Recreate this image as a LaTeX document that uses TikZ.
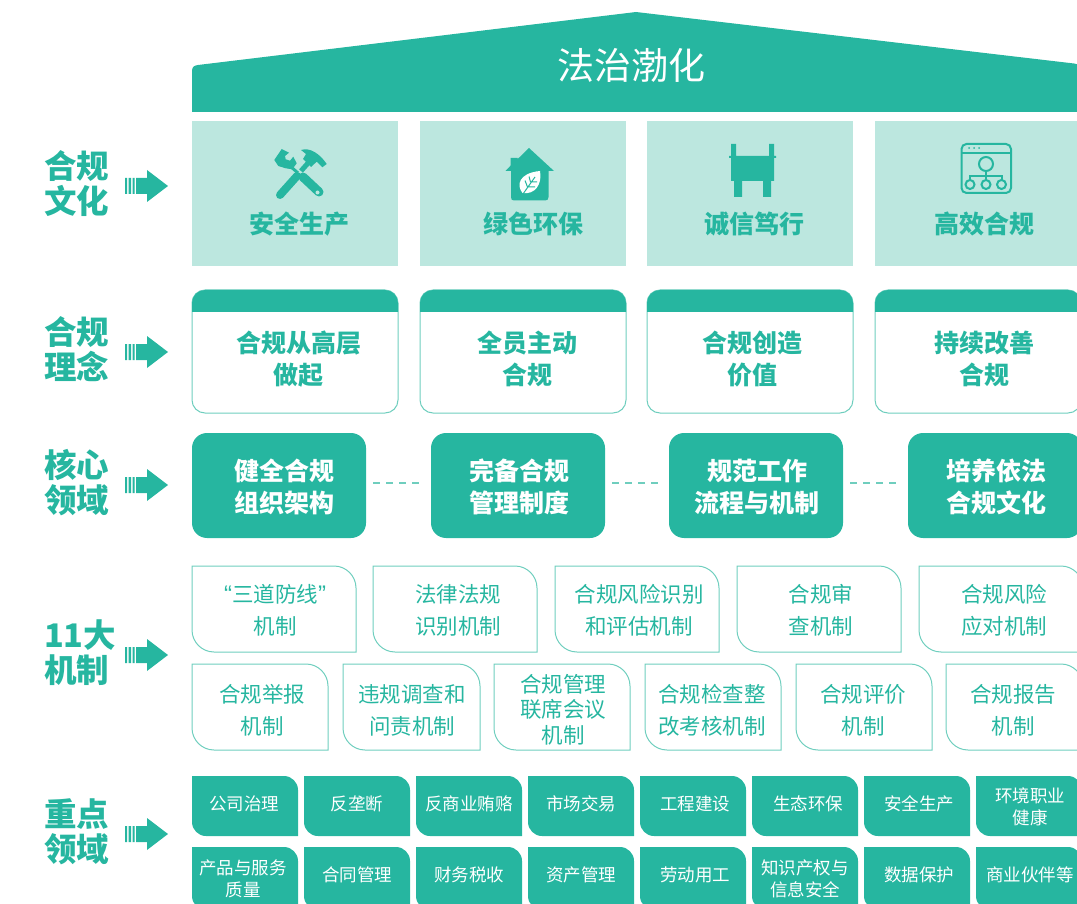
\documentclass[tikz,border=0pt]{standalone}
\usepackage{fontspec}
\setmainfont{Noto Sans CJK SC}
\newfontfamily\quotefont{Liberation Sans}
\definecolor{jade}{HTML}{26B6A0}
\definecolor{pale}{HTML}{BCE7DF}
\definecolor{edge}{HTML}{6FCEBE}
\newcommand{\leafpath}[5]{(#1,#2) -- ({#3-#5},#2) .. controls ({#3-.45*#5},#2) and (#3,{#2+.45*#5}) .. (#3,{#2+#5}) -- (#3,#4) -- ({#1+#5},#4) .. controls ({#1+.45*#5},#4) and (#1,{#4-.45*#5}) .. (#1,{#4-#5}) -- cycle}
\newcommand{\tabpath}[5]{(#1,#4) -- (#1,{#2+#5}) .. controls (#1,{#2+.45*#5}) and ({#1+.45*#5},#2) .. ({#1+#5},#2) -- ({#3-#5},#2) .. controls ({#3-.45*#5},#2) and (#3,{#2+.45*#5}) .. (#3,{#2+#5}) -- (#3,#4) -- cycle}
\tikzset{
  sidetext/.style={anchor=west,align=left,inner sep=0pt,text=jade,font=\bfseries\fontsize{32.5}{35}\selectfont},
  bigtext/.style={align=center,inner sep=0pt,text=jade,font=\bfseries\fontsize{25}{32}\selectfont},
  whitetext/.style={bigtext,text=white},
  mechtext/.style={align=center,inner sep=0pt,text=jade,font=\fontsize{21.5}{32}\selectfont},
  fieldtext/.style={align=center,inner sep=0pt,text=white,font=\fontsize{17.5}{22}\selectfont},
  culture/.style={fill=pale,draw=none,minimum width=206pt,minimum height=145pt,inner sep=0pt},
  idea/.style={draw=edge,line width=1pt,rounded corners=13pt,minimum width=206pt,minimum height=123pt,inner sep=0pt},
  core/.style={fill=jade,rounded corners=15pt,minimum width=174pt,minimum height=105pt,inner sep=0pt},
  coredash/.style={draw=edge,line width=1.5pt,dash pattern=on 7pt off 6pt,shorten >=7pt,shorten <=7pt},
  mechline/.style={draw=edge,line width=1pt},
  iconline/.style={draw=jade,line width=2pt,fill=none},
  pics/goarrow/.style={code={
    \fill[jade] (0,-8) rectangle (2.2,8) (3.7,-8) rectangle (6,8) (7.5,-8) rectangle (9.7,8);
    \fill[jade] (11,-8) -- (22,-8) -- (22,-16) -- (43,0) -- (22,16) -- (22,8) -- (11,8) -- cycle;
  }}
}
\begin{document}
\begin{tikzpicture}[x=1pt,y=-1pt]
\useasboundingbox (0,0) rectangle (1077,904);
\clip (0,0) rectangle (1077,904);
%roof
\fill[jade] (192,112) -- (192,71) .. controls (192,67) and (194,65.5) .. (198,65) -- (636,12) -- (1074,63.5) .. controls (1078,64) and (1082,66) .. (1082,70) -- (1082,112) -- cycle;
\node[font=\fontsize{37}{40}\selectfont,text=white,inner sep=0pt] (roof) at (631,65) {法治渤化};

%culture row
\node[sidetext] (sideA) at (44,183.5) {合规\\文化}; \pic (arrowA) at (125,186) {goarrow};
\node[culture] (cult1) at (295,193.5) {}; \node[bigtext] (cult1t) at (299,224) {安全生产};
\node[culture] (cult2) at (523,193.5) {}; \node[bigtext] (cult2t) at (533,224) {绿色环保};
\node[culture] (cult3) at (750,193.5) {}; \node[bigtext] (cult3t) at (754,224) {诚信笃行};
\node[culture] (cult4) at (978,193.5) {}; \node[bigtext] (cult4t) at (984,224) {高效合规};
%tools icon
\fill[jade] (274.3,160) -- (281.7,149) -- (289,152.7) -- (285,156) -- (285.7,159.3) -- (290,160.7) -- (293.3,156.7) -- (296.7,163.3) -- (292.3,169.3) -- (285.7,168.3) -- (278.3,166) -- cycle;
\draw[jade,line width=3pt] (290,166) -- (298,173);
\draw[jade,line width=9pt,line cap=round] (303,177) -- (319,192);
\fill[pale] (317.5,192.5) circle[radius=2];
\draw[jade,line width=8pt,line cap=round] (280,195) -- (297,176);
\draw[jade,line width=5pt] (301,171) -- (309,162);
\fill[jade] (301,150) .. controls (310,147) and (320,154) .. (326.7,164) -- (322.3,167.3) -- (316.7,161.7) -- (311,167) -- (303,159) -- (306,154) -- cycle;
%house icon
\fill[jade] (511,171) -- (505.5,171) -- (510.7,165.5) -- (510.7,158) -- (517.7,158) -- (517.7,159) -- (529,148) -- (554,171) -- (548.5,171) -- (548.5,197) .. controls (548.5,199.5) and (547.5,200.5) .. (545,200.5) -- (514,200.5) .. controls (512,200.5) and (511,199.5) .. (511,197) -- cycle;
\fill[white] (522.5,193) .. controls (516,185) and (519,173) .. (540,171) .. controls (542.5,184) and (535,195) .. (522.5,193) -- cycle;
\draw[jade,line width=1pt] (523,194) -- (535,177) (527.5,187) -- (525,180.5) (527.5,187) -- (535,187) (530.5,182) -- (529,176.5) (530.5,182) -- (537,182);
%pedestal icon
\fill[jade] (731,144) rectangle (736,157) (769,144) rectangle (774,157) (729,156) rectangle (776,158) (731,157) rectangle (774,181) (734,181) rectangle (742,197) (763,181) rectangle (771,197);
%network icon
\draw[iconline,rounded corners=5pt] (961.5,144) rectangle (1011,193);
\draw[iconline] (961.5,153) -- (1011,153);
\fill[jade] (969,148) circle[radius=1] (974,148) circle[radius=1] (979,148) circle[radius=1];
\draw[iconline] (986,164) circle[radius=7] (970,184.5) circle[radius=4.5] (986,184.5) circle[radius=4.5] (1001.5,184.5) circle[radius=4.5];
\draw[iconline] (986,171) -- (986,180) (970,180) -- (970,176) -- (1001.5,176) -- (1001.5,180);

%idea row
\node[sidetext] (sideB) at (44,349.5) {合规\\理念}; \pic (arrowB) at (125,352) {goarrow};
\node[idea] (idea1) at (295,351.5) {}; \fill[jade] \tabpath{192}{290}{398}{312}{13}; \node[bigtext] (idea1t) at (298.5,359) {合规从高层\\做起};
\node[idea] (idea2) at (523,351.5) {}; \fill[jade] \tabpath{420}{290}{626}{312}{13}; \node[bigtext] (idea2t) at (527,359) {全员主动\\合规};
\node[idea] (idea3) at (750,351.5) {}; \fill[jade] \tabpath{647}{290}{853}{312}{13}; \node[bigtext] (idea3t) at (752,359) {合规创造\\价值};
\node[idea] (idea4) at (978,351.5) {}; \fill[jade] \tabpath{875}{290}{1081}{312}{13}; \node[bigtext] (idea4t) at (984,359) {持续改善\\合规};

%core row
\node[sidetext] (sideC) at (44,482.5) {核心\\领域}; \pic (arrowC) at (125,485) {goarrow};
\node[core] (core1) at (279,485.5) {}; \node[whitetext] (core1t) at (284,486.5) {健全合规\\组织架构};
\node[core] (core2) at (518,485.5) {}; \node[whitetext] (core2t) at (519,486.5) {完备合规\\管理制度};
\node[core] (core3) at (756,485.5) {}; \node[whitetext] (core3t) at (757,486.5) {规范工作\\流程与机制};
\node[core] (core4) at (995,485.5) {}; \node[whitetext] (core4t) at (996,486.5) {培养依法\\合规文化};
\draw[coredash] ([yshift=2.5pt]core1.east) -- ([yshift=2.5pt]core2.west);
\draw[coredash] ([yshift=2.5pt]core2.east) -- ([yshift=2.5pt]core3.west);
\draw[coredash] ([yshift=2.5pt]core3.east) -- ([yshift=2.5pt]core4.west);

%mechanisms, row 1
\node[sidetext] (sideD) at (44,653) {11大\\机制}; \pic (arrowD) at (125,655) {goarrow};
\draw[mechline] \leafpath{192}{566}{356}{652}{22}; \node[mechtext] (mech1) at (275,610) {{\quotefont\fontsize{24}{32}\selectfont “}三道防线{\quotefont\fontsize{24}{32}\selectfont ”}\\机制};
\draw[mechline] \leafpath{373}{566}{537}{652}{22}; \node[mechtext] (mech2) at (458,610) {法律法规\\识别机制};
\draw[mechline] \leafpath{555}{566}{719}{652}{22}; \node[mechtext] (mech3) at (639,610) {合规风险识别\\和评估机制};
\draw[mechline] \leafpath{737}{566}{901}{652}{22}; \node[mechtext] (mech4) at (821,610) {合规审\\查机制};
\draw[mechline] \leafpath{919}{566}{1083}{652}{22}; \node[mechtext] (mech5) at (1004,610) {合规风险\\应对机制};
%mechanisms, row 2
\draw[mechline] \leafpath{192}{664}{328}{750}{22}; \node[mechtext] (mech6) at (262,710) {合规举报\\机制};
\draw[mechline] \leafpath{343}{664}{480}{750}{22}; \node[mechtext] (mech7) at (412,710) {违规调查和\\问责机制};
\draw[mechline] \leafpath{494}{664}{630}{750}{22}; \node[mechtext,font=\fontsize{21.5}{25.5}\selectfont] (mech8) at (563,709.5) {合规管理\\联席会议\\机制};
\draw[mechline] \leafpath{645}{664}{781}{750}{22}; \node[mechtext] (mech9) at (712,710) {合规检查整\\改考核机制};
\draw[mechline] \leafpath{796}{664}{932}{750}{22}; \node[mechtext] (mech10) at (863,710) {合规评价\\机制};
\draw[mechline] \leafpath{946}{664}{1083}{750}{22}; \node[mechtext] (mech11) at (1013,710) {合规报告\\机制};

%key fields, row 1
\node[sidetext] (sideE) at (44,831.5) {重点\\领域}; \pic (arrowE) at (125,834) {goarrow};
\fill[jade] \leafpath{192}{776}{298}{836}{14}; \node[fieldtext] (field1) at (244,803.5) {公司治理};
\fill[jade] \leafpath{304}{776}{410}{836}{14}; \node[fieldtext] (field2) at (357,803.5) {反垄断};
\fill[jade] \leafpath{416}{776}{522}{836}{14}; \node[fieldtext] (field3) at (469,803.5) {反商业贿赂};
\fill[jade] \leafpath{528}{776}{634}{836}{14}; \node[fieldtext] (field4) at (581,803.5) {市场交易};
\fill[jade] \leafpath{640}{776}{746}{836}{14}; \node[fieldtext] (field5) at (695,803.5) {工程建设};
\fill[jade] \leafpath{752}{776}{858}{836}{14}; \node[fieldtext] (field6) at (808,803.5) {生态环保};
\fill[jade] \leafpath{864}{776}{970}{836}{14}; \node[fieldtext] (field7) at (919,803.5) {安全生产};
\fill[jade] \leafpath{976}{776}{1082}{836}{14}; \node[fieldtext] (field8) at (1030,806.5) {环境职业\\健康};
%key fields, row 2
\fill[jade] \leafpath{192}{847}{298}{910}{14}; \node[fieldtext] (field9) at (243,878.5) {产品与服务\\质量};
\fill[jade] \leafpath{304}{847}{410}{910}{14}; \node[fieldtext] (field10) at (357,874.5) {合同管理};
\fill[jade] \leafpath{416}{847}{522}{910}{14}; \node[fieldtext] (field11) at (469,874.5) {财务税收};
\fill[jade] \leafpath{528}{847}{634}{910}{14}; \node[fieldtext] (field12) at (581,874.5) {资产管理};
\fill[jade] \leafpath{640}{847}{746}{910}{14}; \node[fieldtext] (field13) at (695,874.5) {劳动用工};
\fill[jade] \leafpath{752}{847}{858}{910}{14}; \node[fieldtext] (field14) at (805,878.5) {知识产权与\\信息安全};
\fill[jade] \leafpath{864}{847}{970}{910}{14}; \node[fieldtext] (field15) at (919,874.5) {数据保护};
\fill[jade] \leafpath{976}{847}{1082}{910}{14}; \node[fieldtext] (field16) at (1030,874.5) {商业伙伴等};
\end{tikzpicture}
\end{document}
